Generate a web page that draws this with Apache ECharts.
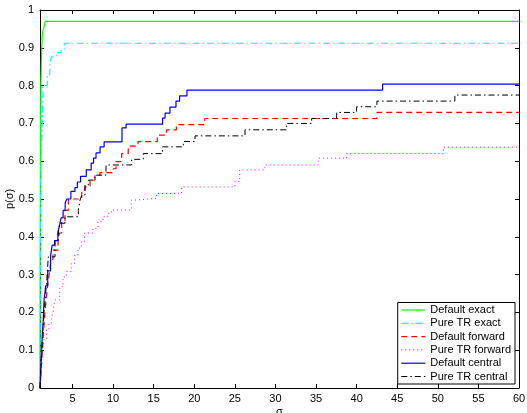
<!DOCTYPE html>
<html>
<head>
<meta charset="utf-8">
<script src="https://cdn.jsdelivr.net/npm/echarts@6/dist/echarts.min.js"></script>
<style>
html,body{margin:0;padding:0;background:#fff;}
#chart{width:527px;height:413px;}
</style>
</head>
<body>
<div id="chart"></div>
<script>
// Tick labels
var xTicks = [5,10,15,20,25,30,35,40,45,50,55,60];
var yTicks = [0,0.1,0.2,0.3,0.4,0.5,0.6,0.7,0.8,0.9,1];

// Series names
var seriesNames = ['Default exact','Pure TR exact','Default forward','Pure TR forward','Default central','Pure TR central'];

// Series values: [sigma, p(sigma)]
var defaultExact = [[1,0],[1.02,0.3],[1.05,0.6],[1.1,0.8],[1.2,0.89],[1.3,0.94],[1.5,0.955],[1.65,0.97],[60,0.97]];
var pureTRExact = [[1,0],[1.02,0.2],[1.05,0.4],[1.1,0.55],[1.2,0.65],[1.3,0.72],[1.37,0.80],[1.9,0.828],[2.2,0.859],[2.4,0.876],[3.0,0.887],[3.6,0.896],[4.0,0.912],[60,0.912]];
var defaultForward = [[1,0],[1.15,0.05],[1.3,0.1],[1.45,0.15],[1.6,0.2],[1.78,0.24],[1.99,0.28],[2.19,0.31],[2.35,0.34],[2.6,0.365],[3.22,0.387],[3.4,0.41],[3.67,0.44],[4.08,0.47],[4.49,0.50],[6.14,0.524],[6.54,0.532],[7.16,0.55],[7.77,0.564],[8.39,0.57],[10.03,0.58],[10.36,0.599],[11.06,0.62],[11.87,0.64],[13.07,0.652],[15.45,0.669],[16.6,0.683],[17.8,0.697],[21.3,0.713],[42.5,0.729],[60,0.729]];
var pureTRForward = [[1,0],[1.1,0.02],[1.2,0.06],[1.3,0.1],[1.5,0.13],[1.8,0.153],[2.1,0.17],[2.39,0.184],[2.6,0.198],[2.81,0.233],[3.43,0.268],[3.83,0.294],[4.24,0.308],[4.85,0.33],[5.27,0.352],[5.68,0.37],[6.09,0.387],[6.5,0.41],[7.53,0.422],[8.14,0.44],[8.76,0.453],[9.37,0.462],[9.78,0.471],[12.24,0.497],[12.7,0.502],[15.37,0.515],[18.45,0.532],[25.0,0.546],[25.6,0.577],[28.7,0.59],[35.27,0.608],[38.77,0.62],[50.67,0.637],[60,0.637]];
var defaultCentral = [[1,0],[1.1,0.05],[1.2,0.1],[1.3,0.15],[1.4,0.18],[1.5,0.233],[1.7,0.27],[1.95,0.31],[2.3,0.35],[2.5,0.378],[2.8,0.39],[3.2,0.41],[3.4,0.43],[3.6,0.45],[3.85,0.47],[4.1,0.49],[4.3,0.50],[4.8,0.52],[5.3,0.53],[5.6,0.545],[6.0,0.56],[6.7,0.577],[7.3,0.595],[7.6,0.608],[7.9,0.622],[8.4,0.638],[8.9,0.651],[11.1,0.688],[11.6,0.698],[16.1,0.714],[16.4,0.727],[17.0,0.743],[17.75,0.759],[18.2,0.773],[19.1,0.788],[43.2,0.804],[60,0.804]];
var pureTRCentral = [[1,0],[1.1,0.05],[1.2,0.1],[1.35,0.15],[1.5,0.2],[1.7,0.25],[1.85,0.29],[2.02,0.347],[2.85,0.39],[3.25,0.418],[3.46,0.436],[4.08,0.453],[5.72,0.47],[5.93,0.497],[6.14,0.51],[6.54,0.537],[6.95,0.55],[7.77,0.563],[9.13,0.59],[12.29,0.605],[13.72,0.62],[16.1,0.638],[18.65,0.652],[20.09,0.667],[26.25,0.683],[31.38,0.70],[34.46,0.713],[37.54,0.729],[40.0,0.744],[42.5,0.759],[52.1,0.775],[60,0.775]];

var chart = echarts.init(document.getElementById('chart'), null, {renderer:'canvas'});
var font = 'Liberation Sans, Arial, Helvetica, sans-serif';

function mkSeries(name, data, color, type, width) {
  return {
    name: name, type: 'line', data: data, step: 'end',
    symbol: 'none', showSymbol: false, silent: true, animation: false,
    xAxisIndex: 0, yAxisIndex: 0,
    lineStyle: {color: color, width: width || 1, type: type},
    itemStyle: {color: color}
  };
}

var axisCommon = {
  axisLine: {show: true, onZero: false, lineStyle: {color: '#000', width: 1}},
  splitLine: {show: false}
};

var option = {
  backgroundColor: '#fff',
  animation: false,
  grid: {left: 40, right: 8, top: 10, bottom: 25, containLabel: false, outerBoundsMode: 'none'},
  legend: {
    show: true,
    orient: 'vertical',
    right: 12, bottom: 29,
    data: seriesNames,
    backgroundColor: '#fff',
    borderColor: '#000', borderWidth: 1,
    padding: [2, 4, 2, 3],
    itemWidth: 24, itemHeight: 10, itemGap: 2.3,
    itemStyle: {opacity: 0},
    lineStyle: {width: 1.2},
    textStyle: {fontFamily: font, fontSize: 11, color: '#000'}
  },
  xAxis: [
    Object.assign({}, axisCommon, {
      type: 'value', min: 1, max: 60, position: 'bottom',
      name: 'σ', nameLocation: 'middle', nameGap: 18, nameMoveOverlap: false,
      nameTextStyle: {fontFamily: font, fontSize: 11, color: '#000'},
      axisTick: {show: true, inside: true, length: 4, customValues: xTicks, lineStyle:{color:'#000'}},
      axisLabel: {show: true, customValues: xTicks, margin: 5, fontFamily: font, fontSize: 11, color: '#000'}
    }),
    Object.assign({}, axisCommon, {
      type: 'value', min: 1, max: 60, position: 'top',
      axisTick: {show: true, inside: true, length: 4, customValues: xTicks, lineStyle:{color:'#000'}},
      axisLabel: {show: false}
    })
  ],
  yAxis: [
    Object.assign({}, axisCommon, {
      type: 'value', min: 0, max: 1, interval: 0.1, position: 'left',
      name: 'p(σ)', nameLocation: 'middle', nameGap: 25, nameRotate: 90, nameMoveOverlap: false,
      nameTextStyle: {fontFamily: font, fontSize: 11, color: '#000'},
      axisTick: {show: true, inside: true, length: 4, lineStyle:{color:'#000'}},
      axisLabel: {show: true, margin: 6, fontFamily: font, fontSize: 11, color: '#000',
        formatter: function(v){ return String(Math.round(v*10)/10); }}
    }),
    Object.assign({}, axisCommon, {
      type: 'value', min: 0, max: 1, interval: 0.1, position: 'right',
      axisTick: {show: true, inside: true, length: 4, lineStyle:{color:'#000'}},
      axisLabel: {show: false}
    })
  ],
  series: [
    mkSeries(seriesNames[0], defaultExact, '#00ff00', 'solid', 1.2),
    mkSeries(seriesNames[1], pureTRExact, '#00ffff', [7,3,1.5,3], 1.2),
    mkSeries(seriesNames[2], defaultForward, '#ff0000', [6,4], 1.2),
    mkSeries(seriesNames[3], pureTRForward, '#ff00ff', [1,3], 1),
    mkSeries(seriesNames[4], defaultCentral, '#0000ff', 'solid', 1.2),
    mkSeries(seriesNames[5], pureTRCentral, '#000000', [6,3,1.5,3], 1)
  ]
};
chart.setOption(option);
</script>
</body>
</html>
